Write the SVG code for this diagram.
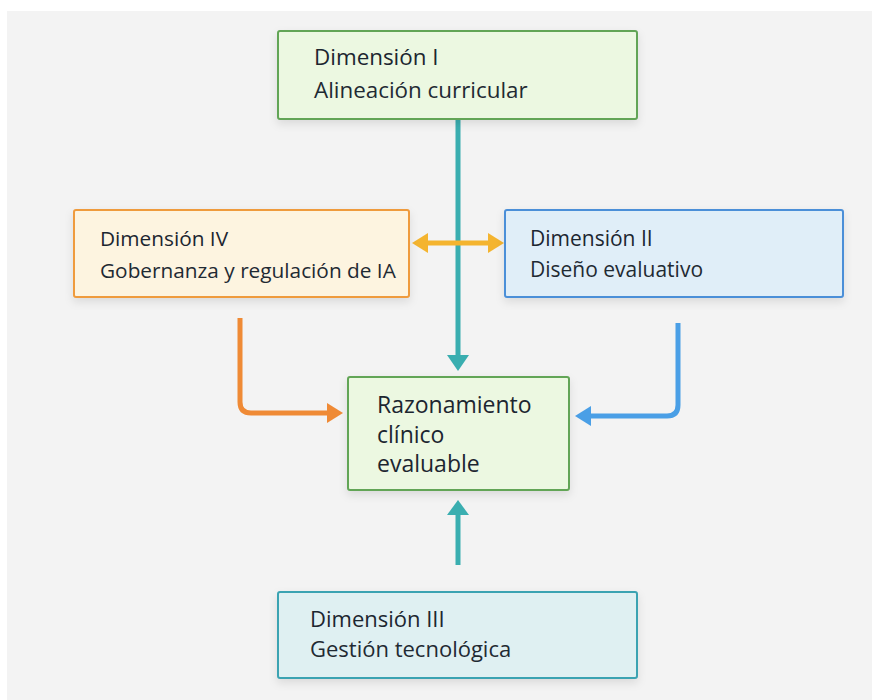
<svg xmlns="http://www.w3.org/2000/svg" width="872" height="700" viewBox="0 0 872 700">
<defs>
<filter id="sh" x="-10%" y="-20%" width="120%" height="150%">
<feDropShadow dx="0" dy="4" stdDeviation="4" flood-color="#000" flood-opacity="0.10"/>
</filter>
</defs>
<style>
.t{font-family:"Open Sans","Noto Sans","Liberation Sans",sans-serif;fill:#1f2a33}
.h{font-family:"Open Sans","Noto Sans","Liberation Sans",sans-serif;fill:#1c2630;font-weight:500}
.c{font-family:"Open Sans","Noto Sans","Liberation Sans",sans-serif;font-size:23px;fill:#1c2630;font-weight:500}
.box{stroke-width:2;filter:url(#sh)}
.line{fill:none;stroke-width:5;stroke-linecap:butt}
</style>
<rect x="0" y="0" width="872" height="700" fill="#ffffff"/>
<rect x="7" y="11" width="865" height="689" fill="#f3f3f3"/>

<g id="connectors">
<line class="line" x1="458" y1="120" x2="458" y2="356" stroke="#3aaeb0"/>
<path d="M447,355 L469,355 L458,371 Z" fill="#3aaeb0"/>
<line class="line" x1="458" y1="565" x2="458" y2="514" stroke="#3aaeb0"/>
<path d="M447,515 L469,515 L458,500 Z" fill="#3aaeb0"/>
<line class="line" x1="427" y1="243" x2="489" y2="243" stroke="#f4b42f"/>
<path d="M428,233 L428,253 L412,243 Z" fill="#f4b42f"/>
<path d="M488,233 L488,253 L504,243 Z" fill="#f4b42f"/>
<path class="line" d="M240,318 L240,402 Q240,413 251,413 L328,413" stroke="#ef8a35"/>
<path d="M327,403 L327,423 L343,413 Z" fill="#ef8a35"/>
<path class="line" d="M678,323 L678,405 Q678,416 667,416 L590,416" stroke="#4a9fe6"/>
<path d="M591,406 L591,426 L575,416 Z" fill="#4a9fe6"/>
</g>

<g id="dim1" font-size="22.4">
<rect class="box" x="278" y="31" width="359" height="88" rx="2" fill="#ecf8e1" stroke="#62a556"/>
<text class="h" x="314" y="65">Dimensión I</text>
<text class="t" x="314" y="98">Alineación curricular</text>
</g>
<g id="dim4" font-size="20.8">
<rect class="box" x="74" y="210" width="335" height="87" rx="2" fill="#fdf4e0" stroke="#ef9b3c"/>
<text class="h" x="100" y="246">Dimensión IV</text>
<text class="t" x="100" y="278">Gobernanza y regulación de IA</text>
</g>
<g id="dim2" font-size="21">
<rect class="box" x="505" y="210" width="338" height="87" rx="2" fill="#e0eef8" stroke="#4b8fd8"/>
<text class="h" x="530" y="246">Dimensión II</text>
<text class="t" x="530" y="277">Diseño evaluativo</text>
</g>
<g id="center">
<rect class="box" x="348" y="377" width="221" height="113" rx="2" fill="#ecf8e1" stroke="#62a556"/>
<text class="c" x="377" y="413">Razonamiento</text>
<text class="c" x="377" y="443">clínico</text>
<text class="c" x="377" y="472">evaluable</text>
</g>
<g id="dim3" font-size="22">
<rect class="box" x="278" y="592" width="359" height="86" rx="2" fill="#dff0f2" stroke="#3aa3b2"/>
<text class="h" x="310" y="627">Dimensión III</text>
<text class="t" x="310" y="657">Gestión tecnológica</text>
</g>
</svg>
